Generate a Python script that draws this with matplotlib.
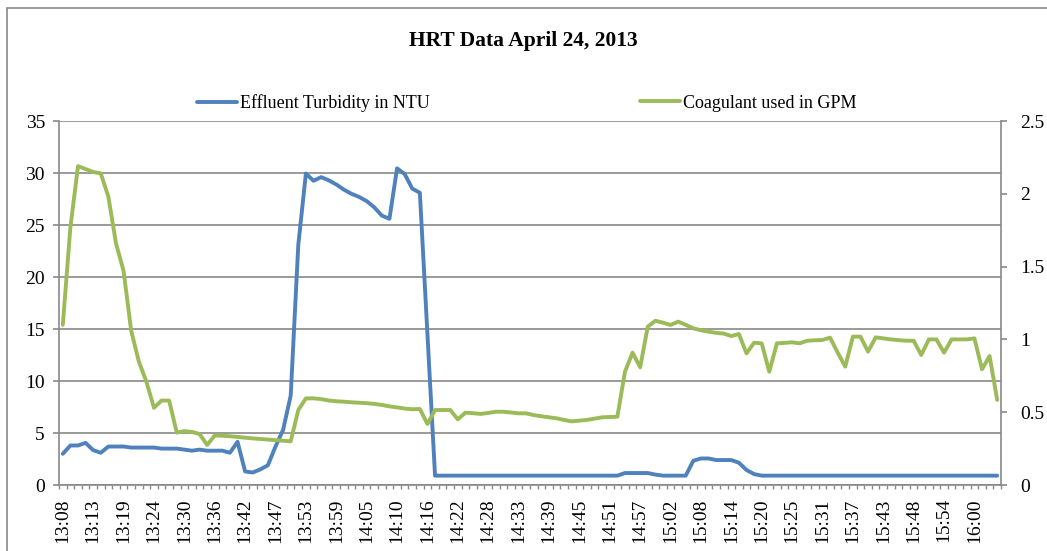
import matplotlib
matplotlib.use("Agg")
import matplotlib.pyplot as plt
from matplotlib.patches import Rectangle

title = "HRT Data April 24, 2013"
turb_label = "Effluent Turbidity in NTU"
coag_label = "Coagulant used in GPM"

time_labels = ["13:08", "13:13", "13:19", "13:24", "13:30", "13:36", "13:42", "13:47",
               "13:53", "13:59", "14:05", "14:10", "14:16", "14:22", "14:28", "14:33",
               "14:39", "14:45", "14:51", "14:57", "15:02", "15:08", "15:14", "15:20",
               "15:25", "15:31", "15:37", "15:43", "15:48", "15:54", "16:00"]

# effluent turbidity, NTU (left axis)
turbidity = [3.0, 3.8, 3.8, 4.05, 3.35, 3.1, 3.7, 3.7, 3.7, 3.6,
             3.6, 3.6, 3.6, 3.5, 3.5, 3.5, 3.4, 3.3, 3.4, 3.3,
             3.3, 3.3, 3.1, 4.15, 1.3, 1.2, 1.5, 1.9, 3.7, 5.3,
             8.6, 23.1, 29.95, 29.25, 29.6, 29.3, 28.9, 28.4, 28.0, 27.7,
             27.3, 26.7, 25.9, 25.6, 30.45, 29.9, 28.5, 28.1, 14.5, 0.9,
             0.9, 0.9, 0.9, 0.9, 0.9, 0.9, 0.9, 0.9, 0.9, 0.9,
             0.9, 0.9, 0.9, 0.9, 0.9, 0.9, 0.9, 0.9, 0.9, 0.9,
             0.9, 0.9, 0.9, 0.9, 1.15, 1.15, 1.15, 1.15, 1.0, 0.9,
             0.9, 0.9, 0.9, 2.33, 2.55, 2.55, 2.4, 2.4, 2.4, 2.14,
             1.44, 1.05, 0.9, 0.9, 0.9, 0.9, 0.9, 0.9, 0.9, 0.9,
             0.9, 0.9, 0.9, 0.9, 0.9, 0.9, 0.9, 0.9, 0.9, 0.9,
             0.9, 0.9, 0.9, 0.9, 0.9, 0.9, 0.9, 0.9, 0.9, 0.9,
             0.9, 0.9, 0.9, 0.9]

# coagulant dose, GPM (right axis)
coagulant = [1.10, 1.77, 2.19, 2.17, 2.15, 2.14, 1.98, 1.66, 1.47, 1.06,
             0.85, 0.71, 0.53, 0.58, 0.58, 0.36, 0.37, 0.365, 0.35, 0.275,
             0.34, 0.338, 0.335, 0.33, 0.325, 0.32, 0.316, 0.312, 0.308, 0.304,
             0.30, 0.515, 0.595, 0.595, 0.59, 0.58, 0.575, 0.572, 0.568, 0.565,
             0.562, 0.557, 0.55, 0.54, 0.533, 0.525, 0.52, 0.522, 0.419, 0.515,
             0.515, 0.515, 0.451, 0.497, 0.493, 0.488, 0.495, 0.503, 0.503, 0.498,
             0.492, 0.492, 0.48, 0.472, 0.465, 0.458, 0.447, 0.437, 0.442, 0.447,
             0.456, 0.465, 0.467, 0.469, 0.778, 0.909, 0.808, 1.087, 1.128, 1.115,
             1.099, 1.122, 1.10, 1.076, 1.063, 1.053, 1.045, 1.04, 1.023, 1.037,
             0.904, 0.977, 0.973, 0.778, 0.973, 0.976, 0.98, 0.973, 0.991, 0.994,
             0.996, 1.012, 0.91, 0.813, 1.019, 1.019, 0.916, 1.014, 1.007, 1.0,
             0.995, 0.991, 0.991, 0.893, 1.0, 1.0, 0.909, 1.0, 1.0, 1.0,
             1.007, 0.795, 0.886, 0.584]

plt.rcParams["font.family"] = ["Liberation Serif", "DejaVu Serif"]
grey = "#898989"
blue = "#4F81BD"
green = "#9BBB59"

W, H = 1047, 551
fig = plt.figure(figsize=(W / 100, H / 100), dpi=100)

# chart area outline (right and bottom edges fall outside the picture)
fig.patches.append(Rectangle((7 / W, -0.01), 1.0, 1 - 8 / H + 0.01,
                             transform=fig.transFigure, fill=False,
                             edgecolor=grey, lw=1.2))

ax = fig.add_axes([59 / W, 1 - 485 / H, (1001 - 59) / W, (485 - 121) / H])
ax2 = ax.twinx()

x = range(len(turbidity))
l1, = ax.plot(x, turbidity, color=blue, lw=2.8, solid_capstyle="round")
l2, = ax2.plot(x, coagulant, color=green, lw=2.8, solid_capstyle="round")

ax.set_xlim(-0.5, len(turbidity) - 0.5)
ax.set_ylim(0, 35)
ax.set_yticks(range(0, 36, 5))
ax2.set_ylim(0, 2.5)
ax2.set_yticks([0, 0.5, 1, 1.5, 2, 2.5])
ax2.set_yticklabels(["0", "0.5", "1", "1.5", "2", "2.5"])

ax.set_xticks(range(0, 4 * len(time_labels), 4))
ax.set_xticklabels(time_labels, rotation=90)
ax.set_xticks([i - 0.5 for i in range(len(turbidity) + 1)], minor=True)

ax.grid(axis="y", color=grey, lw=1.2)
ax.set_axisbelow(True)

for s in ["top", "right"]:
    ax.spines[s].set_visible(False)
for s in ["top", "left", "bottom"]:
    ax2.spines[s].set_visible(False)
for s in ["left", "bottom"]:
    ax.spines[s].set_color(grey)
    ax.spines[s].set_linewidth(1.2)
ax2.spines["right"].set_color(grey)
ax2.spines["right"].set_linewidth(1.2)

ax.tick_params(axis="x", which="major", length=0, pad=9.5, labelsize=14)
ax.tick_params(axis="x", which="minor", length=3, color=grey, width=1)
ax.tick_params(axis="y", length=4.5, color=grey, width=1.2, pad=5.6, labelsize=14)
ax2.tick_params(axis="y", length=4.5, color=grey, width=1.2, pad=9.2, labelsize=14)

fig.text(0.5, 1 - 41 / H, title, ha="center", va="center",
         fontsize=15.5, fontweight="bold")

legend_y = 1 - 103 / H
fig.legend(handles=[l1], labels=[turb_label], loc="center left",
           bbox_to_anchor=(197 / W, legend_y), frameon=False, fontsize=13,
           handlelength=2.2, handletextpad=0.2, borderpad=0, borderaxespad=0)
fig.legend(handles=[l2], labels=[coag_label], loc="center left",
           bbox_to_anchor=(640 / W, legend_y), frameon=False, fontsize=13,
           handlelength=2.2, handletextpad=0.2, borderpad=0, borderaxespad=0)

fig.savefig("out.png", dpi=100)
